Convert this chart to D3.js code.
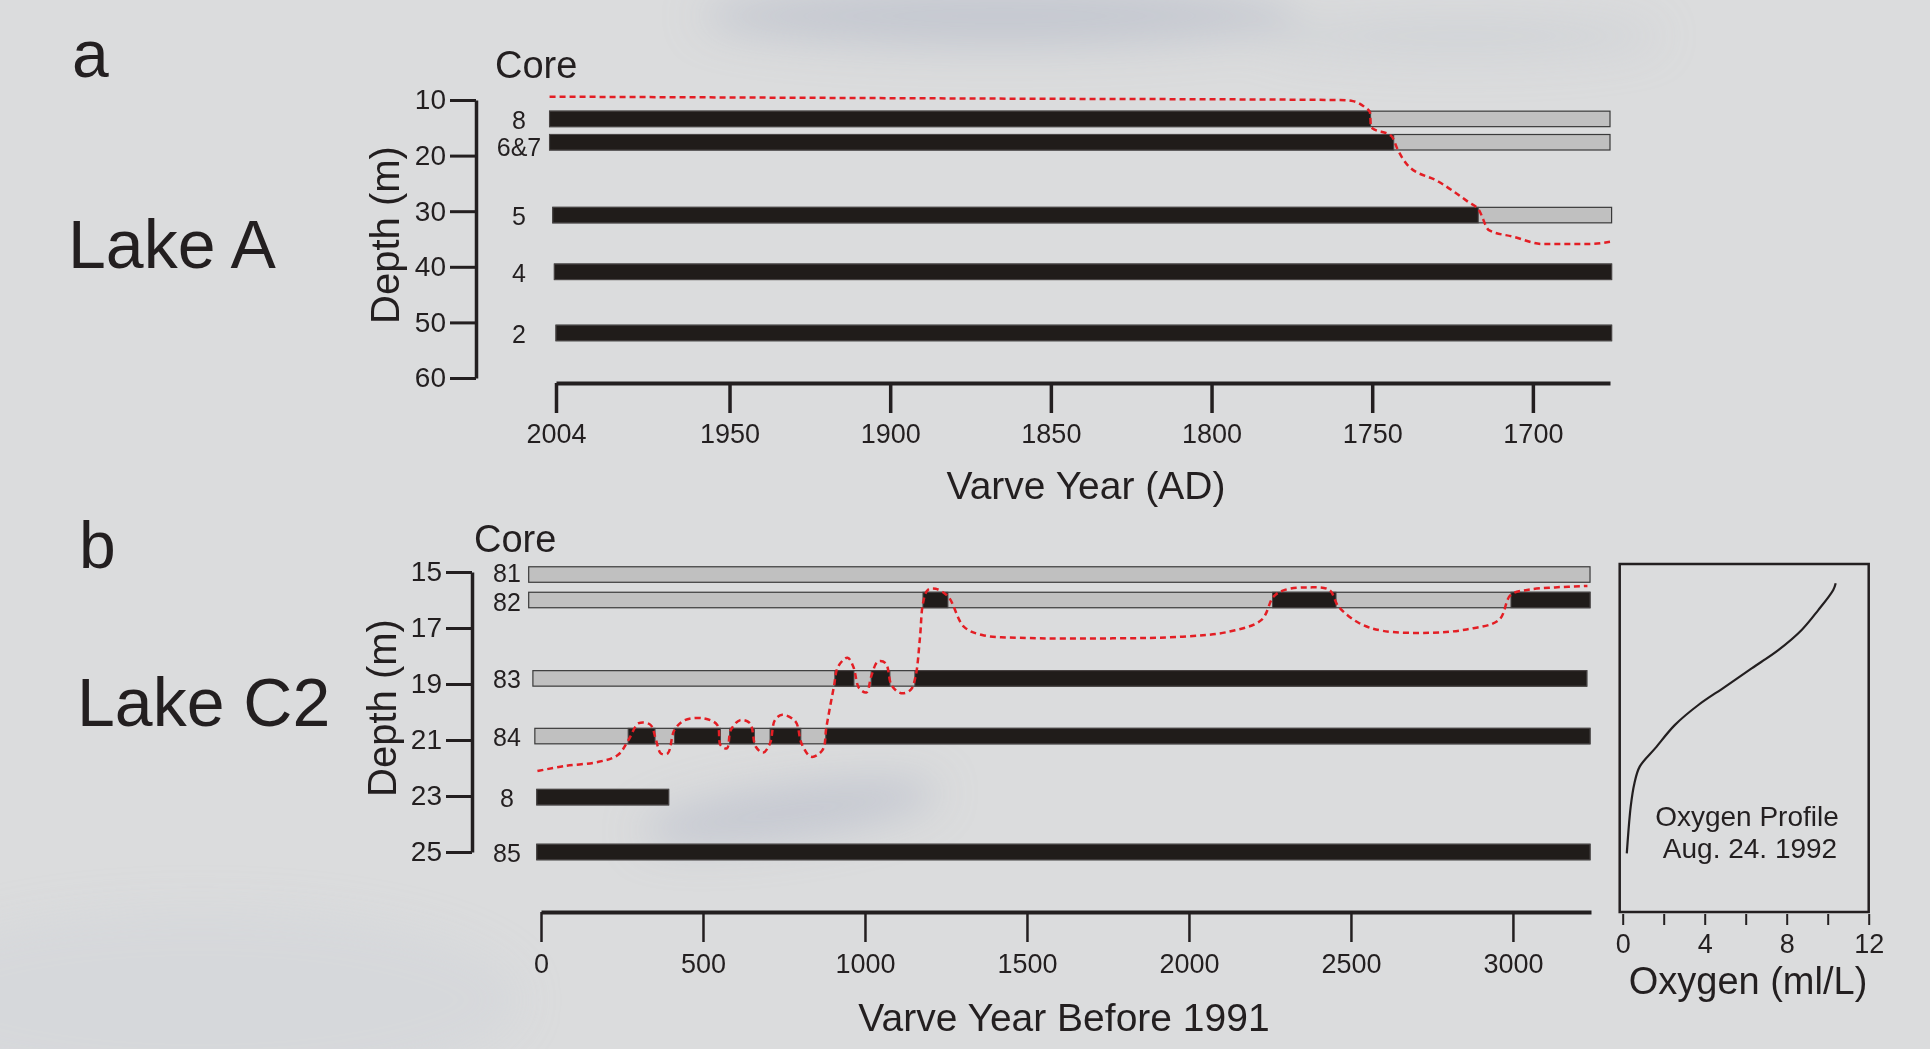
<!DOCTYPE html>
<html>
<head>
<meta charset="utf-8">
<script src="https://cdn.jsdelivr.net/npm/d3@7"></script>
<style>
  html, body { margin: 0; padding: 0; background: #dbdcdd; }
  svg { display: block; }
  text { font-family: "Liberation Sans", Arial, sans-serif; fill: #231f20; }
</style>
</head>
<body>
<div id="chart"></div>
<script>
// ---- Lake A (panel a) ----
const coresA = ['8', '6&7', '5', '4', '2'];
const depthA = [13.4, 17.6, 30.7, 40.9, 51.9];
const topYearA = [2006, 2006, 2005, 2004.5, 2004];
const varvedToA = [1750.5, 1743.3, 1717, 1675.5, 1675.5];   // black = varved part
const baseYearA = [1676, 1676, 1675.5, 1675.5, 1675.5];
const depthTicksA = [10, 20, 30, 40, 50, 60];
const yearTicksA = [2004, 1950, 1900, 1850, 1800, 1750, 1700];
// anoxic boundary (year AD, depth m)
const anoxiaA = [
  [2006, 9.4], [1866, 9.75], [1760, 10.0], [1756, 10.2], [1752.3, 11.3], [1750.7, 12.2],
  [1750.4, 14.9], [1744, 16.5], [1742, 19.0], [1739, 21.7], [1729.3, 24.7],
  [1720.2, 28.3], [1716.8, 29.8], [1713.7, 33.4], [1706, 34.6], [1697, 35.9],
  [1682.6, 35.9], [1676, 35.5]
];

// ---- Lake C2 (panel b) ----
const coresB = ['81', '82', '83', '84', '8', '85'];
const depthB = [15.09, 16.0, 18.8, 20.86, 23.04, 25.0];
const spanB = [[-38, 3238], [-38, 3238], [-25, 3228], [-19, 3238], [-13, 394], [-13, 3238]];
const varvedB = [
  [],
  [[1179, 1256], [2258, 2454], [2994, 3238]],
  [[907, 966], [1019, 1077], [1154, 3228]],
  [[269, 352], [412, 554], [582, 659], [707, 802], [879, 3238]],
  [[-13, 394]],
  [[-13, 3238]]
];
const depthTicksB = [15, 17, 19, 21, 23, 25];
const yearTicksB = [0, 500, 1000, 1500, 2000, 2500, 3000];
// anoxic boundary (varve years before 1991, depth m)
const anoxiaB = [
  [-11, 22.11], [72, 21.93], [178, 21.78], [237, 21.54], [270, 21.0], [302, 20.40],
  [338, 20.46], [355, 21.0], [370, 21.48], [391, 21.48], [412, 20.64], [444, 20.29],
  [503, 20.23], [544, 20.46], [554, 21.18], [574, 21.30], [586, 20.64], [615, 20.29],
  [645, 20.40], [663, 21.24], [686, 21.45], [707, 21.12], [722, 20.29], [745, 20.10],
  [786, 20.35], [804, 21.12], [834, 21.60], [869, 21.36], [881, 20.53], [904, 19.10],
  [917, 18.38], [946, 18.06], [964, 18.38], [982, 19.15], [1005, 19.30], [1019, 18.74],
  [1040, 18.20], [1064, 18.26], [1082, 19.04], [1111, 19.33], [1141, 19.21], [1156, 18.74],
  [1170, 17.31], [1179, 16.12], [1194, 15.64], [1218, 15.60], [1257, 15.88], [1305, 16.95],
  [1362, 17.25], [1478, 17.35], [1765, 17.37], [1980, 17.31], [2124, 17.13], [2224, 16.71],
  [2261, 15.88], [2296, 15.64], [2368, 15.55], [2433, 15.64], [2462, 16.24], [2526, 16.83],
  [2598, 17.10], [2742, 17.17], [2857, 17.05], [2957, 16.71], [2993, 15.82], [3044, 15.64],
  [3130, 15.55], [3230, 15.50]
];

// ---- Oxygen profile, Aug. 24. 1992 (ml/L, depth m) ----
const oxygenProfile = [
  [10.39, 15.40], [10.27, 15.64], [9.54, 16.36], [8.73, 17.07], [7.59, 17.79],
  [6.29, 18.44], [4.99, 19.10], [3.69, 19.75], [2.55, 20.46], [1.58, 21.30],
  [0.83, 21.95], [0.57, 22.55], [0.39, 23.38], [0.20, 25.05]
];
const oxygenTicks = [0, 2, 4, 6, 8, 10, 12];

const W = 1930, H = 1049;
const INK = '#231f20', BLACK = '#201c1a', GREY = '#c0c0c0', RED = '#e31e24';
const barH = 15.5;

const svg = d3.select('#chart').append('svg')
  .attr('width', W).attr('height', H);

// background photo-like wash
const defs = svg.append('defs');
defs.append('filter').attr('id', 'blur').attr('x', '-50%').attr('y', '-50%')
  .attr('width', '200%').attr('height', '200%')
  .append('feGaussianBlur').attr('stdDeviation', 20);
svg.append('rect').attr('width', W).attr('height', H).attr('fill', '#dbdcdd');
const wash = svg.append('g').attr('filter', 'url(#blur)');
wash.append('ellipse').attr('cx', 1000).attr('cy', 16).attr('rx', 300).attr('ry', 30)
  .attr('fill', '#aeb3c3').attr('opacity', 0.5);
wash.append('ellipse').attr('cx', 1460).attr('cy', 36).attr('rx', 200).attr('ry', 22)
  .attr('fill', '#c4c8d0').attr('opacity', 0.4);
wash.append('ellipse').attr('cx', 790).attr('cy', 812).attr('rx', 150).attr('ry', 26)
  .attr('transform', 'rotate(-8,790,812)')
  .attr('fill', '#b3b8c6').attr('opacity', 0.55);
wash.append('ellipse').attr('cx', 200).attr('cy', 1000).attr('rx', 320).attr('ry', 90)
  .attr('fill', '#d0d3d9').attr('opacity', 0.4);

function styleAxis(g, domainW, tickW, fontSize) {
  g.attr('font-family', null).attr('font-size', null);
  g.select('.domain').attr('stroke', INK).attr('stroke-width', domainW);
  g.selectAll('.tick line').attr('stroke', INK).attr('stroke-width', tickW);
  g.selectAll('.tick text').attr('fill', INK).attr('font-size', fontSize);
}

// ================= panel a =================
const xA = d3.scaleLinear().domain([2004, 1676]).range([556, 1610]);
const yA = d3.scaleLinear().domain([10, 60]).range([100, 378]);

svg.append('text').attr('x', 72).attr('y', 77).attr('font-size', 66).text('a');
svg.append('text').attr('x', 68).attr('y', 268).attr('font-size', 68).text('Lake A');
svg.append('text').attr('x', 495).attr('y', 78).attr('font-size', 38).text('Core');

const gyA = svg.append('g').attr('transform', 'translate(476,0)')
  .call(d3.axisLeft(yA).tickValues(depthTicksA).tickSize(26).tickSizeOuter(0).tickPadding(4));
styleAxis(gyA, 3.5, 3, 28);

svg.append('text').attr('font-size', 40).attr('text-anchor', 'middle')
  .attr('transform', 'translate(399,235) rotate(-90)').text('Depth (m)');

const gxA = svg.append('g').attr('transform', 'translate(0,383)')
  .call(d3.axisBottom(xA).tickValues(yearTicksA).tickSize(30).tickSizeOuter(0)
    .tickPadding(11).tickFormat(d3.format('d')));
styleAxis(gxA, 4, 3.5, 27);

svg.append('text').attr('x', 1086).attr('y', 499).attr('font-size', 39)
  .attr('text-anchor', 'middle').text('Varve Year (AD)');

const barsA = svg.append('g');
coresA.forEach((c, i) => {
  const y = yA(depthA[i]);
  barsA.append('rect')
    .attr('x', xA(topYearA[i])).attr('y', y - barH / 2)
    .attr('width', xA(baseYearA[i]) - xA(topYearA[i])).attr('height', barH)
    .attr('fill', GREY).attr('stroke', '#3a3a3a').attr('stroke-width', 1.2);
  barsA.append('rect')
    .attr('x', xA(topYearA[i])).attr('y', y - barH / 2)
    .attr('width', xA(varvedToA[i]) - xA(topYearA[i])).attr('height', barH)
    .attr('fill', BLACK).attr('stroke', '#4a4646').attr('stroke-width', 1);
  svg.append('text').attr('x', 519).attr('y', y + (i === 1 ? 5 : 1)).attr('dy', '0.35em')
    .attr('font-size', 25).attr('text-anchor', 'middle').text(c);
});

svg.append('path').datum(anoxiaA)
  .attr('d', d3.line().x(d => xA(d[0])).y(d => yA(d[1])).curve(d3.curveMonotoneX))
  .attr('fill', 'none')
  .attr('stroke', RED).attr('stroke-width', 2.5).attr('stroke-dasharray', '6,4');

// ================= panel b =================
const xB = d3.scaleLinear().domain([0, 3241]).range([541, 1591]);
const yB = d3.scaleLinear().domain([15, 25]).range([572, 852]);

svg.append('text').attr('x', 79).attr('y', 568).attr('font-size', 66).text('b');
svg.append('text').attr('x', 77).attr('y', 726).attr('font-size', 68).text('Lake C2');
svg.append('text').attr('x', 474).attr('y', 552).attr('font-size', 38).text('Core');

const gyB = svg.append('g').attr('transform', 'translate(472,0)')
  .call(d3.axisLeft(yB).tickValues(depthTicksB).tickSize(26).tickSizeOuter(0).tickPadding(4));
styleAxis(gyB, 3.5, 3, 28);

svg.append('text').attr('font-size', 40).attr('text-anchor', 'middle')
  .attr('transform', 'translate(396,708) rotate(-90)').text('Depth (m)');

const gxB = svg.append('g').attr('transform', 'translate(0,912)')
  .call(d3.axisBottom(xB).tickValues(yearTicksB).tickSize(30).tickSizeOuter(0)
    .tickPadding(12).tickFormat(d3.format('d')));
styleAxis(gxB, 4, 2.5, 27);

svg.append('text').attr('x', 1064).attr('y', 1031).attr('font-size', 39)
  .attr('text-anchor', 'middle').text('Varve Year Before 1991');

const barsB = svg.append('g');
coresB.forEach((c, i) => {
  const y = yB(depthB[i]);
  const [s, e] = spanB[i];
  barsB.append('rect')
    .attr('x', xB(s)).attr('y', y - barH / 2)
    .attr('width', xB(e) - xB(s)).attr('height', barH)
    .attr('fill', GREY).attr('stroke', '#3a3a3a').attr('stroke-width', 1.2);
  varvedB[i].forEach(([a, b]) => {
    barsB.append('rect')
      .attr('x', xB(a)).attr('y', y - barH / 2)
      .attr('width', xB(b) - xB(a)).attr('height', barH)
      .attr('fill', BLACK).attr('stroke', '#4a4646').attr('stroke-width', 1);
  });
  const nudge = i === 0 ? -1 : (i === 1 ? 2 : 1);
  svg.append('text').attr('x', 507).attr('y', y + nudge).attr('dy', '0.35em')
    .attr('font-size', 25).attr('text-anchor', 'middle').text(c);
});

svg.append('path').datum(anoxiaB)
  .attr('d', d3.line().x(d => xB(d[0])).y(d => yB(d[1])).curve(d3.curveCatmullRom.alpha(0.5)))
  .attr('fill', 'none')
  .attr('stroke', RED).attr('stroke-width', 2.5).attr('stroke-dasharray', '6,4');

// ================= oxygen inset =================
const xO = d3.scaleLinear().domain([0, 12]).range([1622.7, 1868.7]);

svg.append('rect').attr('x', xO(0) - 3).attr('y', 564)
  .attr('width', xO(12) - xO(0) + 3).attr('height', 348)
  .attr('fill', 'none').attr('stroke', INK).attr('stroke-width', 2.5);

const gxO = svg.append('g').attr('transform', 'translate(0,914)')
  .call(d3.axisBottom(xO).tickValues(oxygenTicks).tickSize(11).tickSizeOuter(0)
    .tickPadding(9).tickFormat(d => d % 4 === 0 ? d : ''));
styleAxis(gxO, 0, 2, 27);
gxO.select('.domain').remove();

svg.append('path').datum(oxygenProfile)
  .attr('d', d3.line().x(d => xO(d[0])).y(d => yB(d[1])).curve(d3.curveCatmullRom.alpha(0.5)))
  .attr('fill', 'none').attr('stroke', INK).attr('stroke-width', 2.2);

svg.append('text').attr('x', 1747).attr('y', 826).attr('font-size', 28)
  .attr('text-anchor', 'middle').text('Oxygen Profile');
svg.append('text').attr('x', 1750).attr('y', 858).attr('font-size', 28)
  .attr('text-anchor', 'middle').text('Aug. 24. 1992');
svg.append('text').attr('x', 1748).attr('y', 994).attr('font-size', 38)
  .attr('text-anchor', 'middle').text('Oxygen (ml/L)');
</script>
</body>
</html>
